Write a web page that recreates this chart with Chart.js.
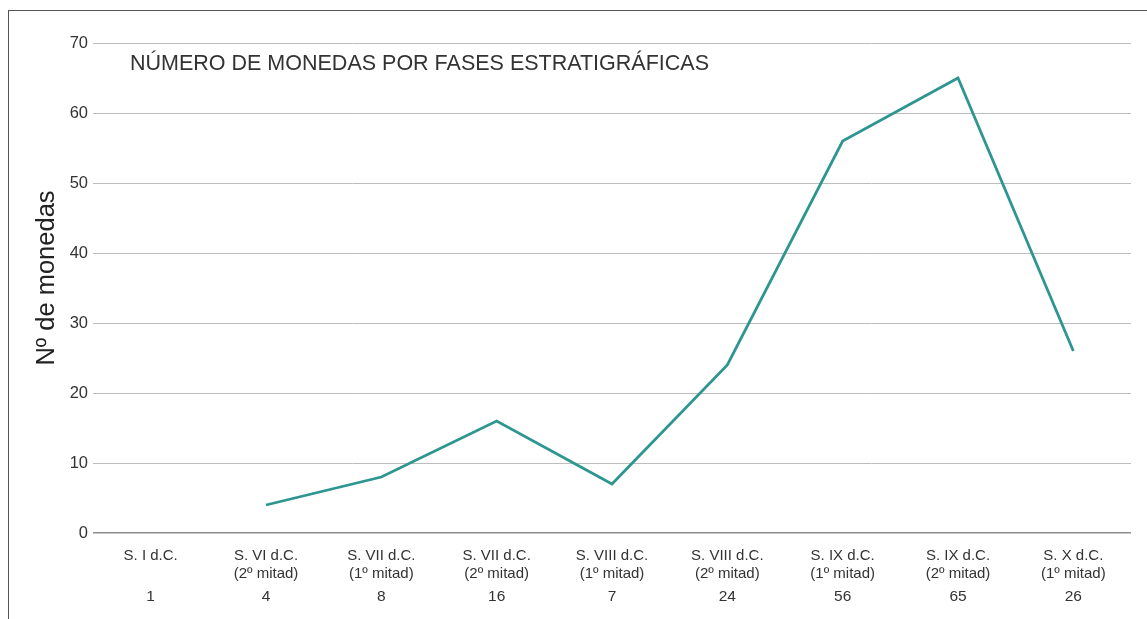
<!DOCTYPE html>
<html>
<head>
<meta charset="utf-8">
<script src="https://cdn.jsdelivr.net/npm/chart.js@4"></script>
<style>
  html, body { margin: 0; padding: 0; background: #fff; overflow: hidden; }
  #wrap { position: relative; width: 1147px; height: 619px; }
  #frame { position: absolute; left: 8px; top: 10px; width: 1200px; height: 700px; border: 1.5px solid #555; box-sizing: border-box; }
  canvas { position: absolute; left: 0; top: 0; }
</style>
</head>
<body>
<div id="wrap">
  <div id="frame"></div>
  <canvas id="coinChart" width="1147" height="619"></canvas>
</div>
<script>
// Data
const periods = ["S. I d.C.", "S. VI d.C.", "S. VII d.C.", "S. VII d.C.", "S. VIII d.C.", "S. VIII d.C.", "S. IX d.C.", "S. IX d.C.", "S. X d.C."];
const halves = ["", "(2º mitad)", "(1º mitad)", "(2º mitad)", "(1º mitad)", "(2º mitad)", "(1º mitad)", "(2º mitad)", "(1º mitad)"];
const counts = [1, 4, 8, 16, 7, 24, 56, 65, 26];
// the line in the figure starts at the second phase
const plotted = [null, 4, 8, 16, 7, 24, 56, 65, 26];
const yTicks = [0, 10, 20, 30, 40, 50, 60, 70];

const FONT = "'Liberation Sans', Arial, sans-serif";

// Title inside the plot and the rotated y-axis title
const textPlugin = {
  id: "textPlugin",
  afterDraw(chart) {
    const c = chart.ctx;
    c.save();
    c.fillStyle = "#333";
    c.font = "21.5px " + FONT;
    c.textBaseline = "middle";
    c.textAlign = "left";
    c.fillText("NÚMERO DE MONEDAS POR FASES ESTRATIGRÁFICAS", 130, 64);
    c.translate(47, 278);
    c.rotate(-Math.PI / 2);
    c.textAlign = "center";
    c.fillStyle = "#222";
    c.font = "25.5px " + FONT;
    c.fillText("Nº de monedas", 0, 0);
    c.restore();
  },
};

document.addEventListener("DOMContentLoaded", () => {
  const ctx = document.getElementById("coinChart").getContext("2d");

  const config = {
    type: "line",
    data: {
      labels: periods.map((p, i) => (halves[i] ? [p, halves[i]] : [p])),
      datasets: [
        {
          label: "Monedas",
          data: plotted,
          borderColor: "#2e9691",
          borderWidth: 2.8,
          pointRadius: 0,
          tension: 0,
          fill: false,
        },
      ],
    },
    options: {
      responsive: false,
      animation: false,
      layout: { padding: { top: 43, right: 16, bottom: 6, left: 0 } },
      plugins: {
        legend: { display: false },
        tooltip: { enabled: false },
      },
      scales: {
        x: {
          type: "category",
          position: "bottom",
          offset: true,
          grid: { display: false, drawTicks: false },
          border: { display: false },
          ticks: {
            padding: 14,
            color: "#333",
            font: { family: FONT, size: 15 },
            maxRotation: 0,
            autoSkip: false,
          },
          afterFit: (s) => { s.height = 50; },
        },
        x2: {
          type: "category",
          position: "bottom",
          offset: true,
          labels: counts.map(String),
          grid: { display: false, drawTicks: false },
          border: { display: false },
          ticks: {
            padding: 4,
            color: "#333",
            font: { family: FONT, size: 15.5 },
            maxRotation: 0,
            autoSkip: false,
          },
          afterFit: (s) => { s.height = 30; },
        },
        y: {
          min: 0,
          max: 70,
          afterBuildTicks: (s) => { s.ticks = yTicks.map((v) => ({ value: v })); },
          grid: {
            drawTicks: false,
            color: (c) => (c.tick && c.tick.value === 0 ? "#8c8c8c" : "#bdbdbd"),
            lineWidth: (c) => (c.tick && c.tick.value === 0 ? 1.5 : 1),
          },
          border: { display: false },
          ticks: {
            padding: 5,
            color: "#333",
            font: { family: FONT, size: 16.5 },
          },
          afterFit: (s) => { s.width = 93; },
        },
      },
    },
    plugins: [textPlugin],
  };

  new Chart(ctx, config);
});
</script>
</body>
</html>
